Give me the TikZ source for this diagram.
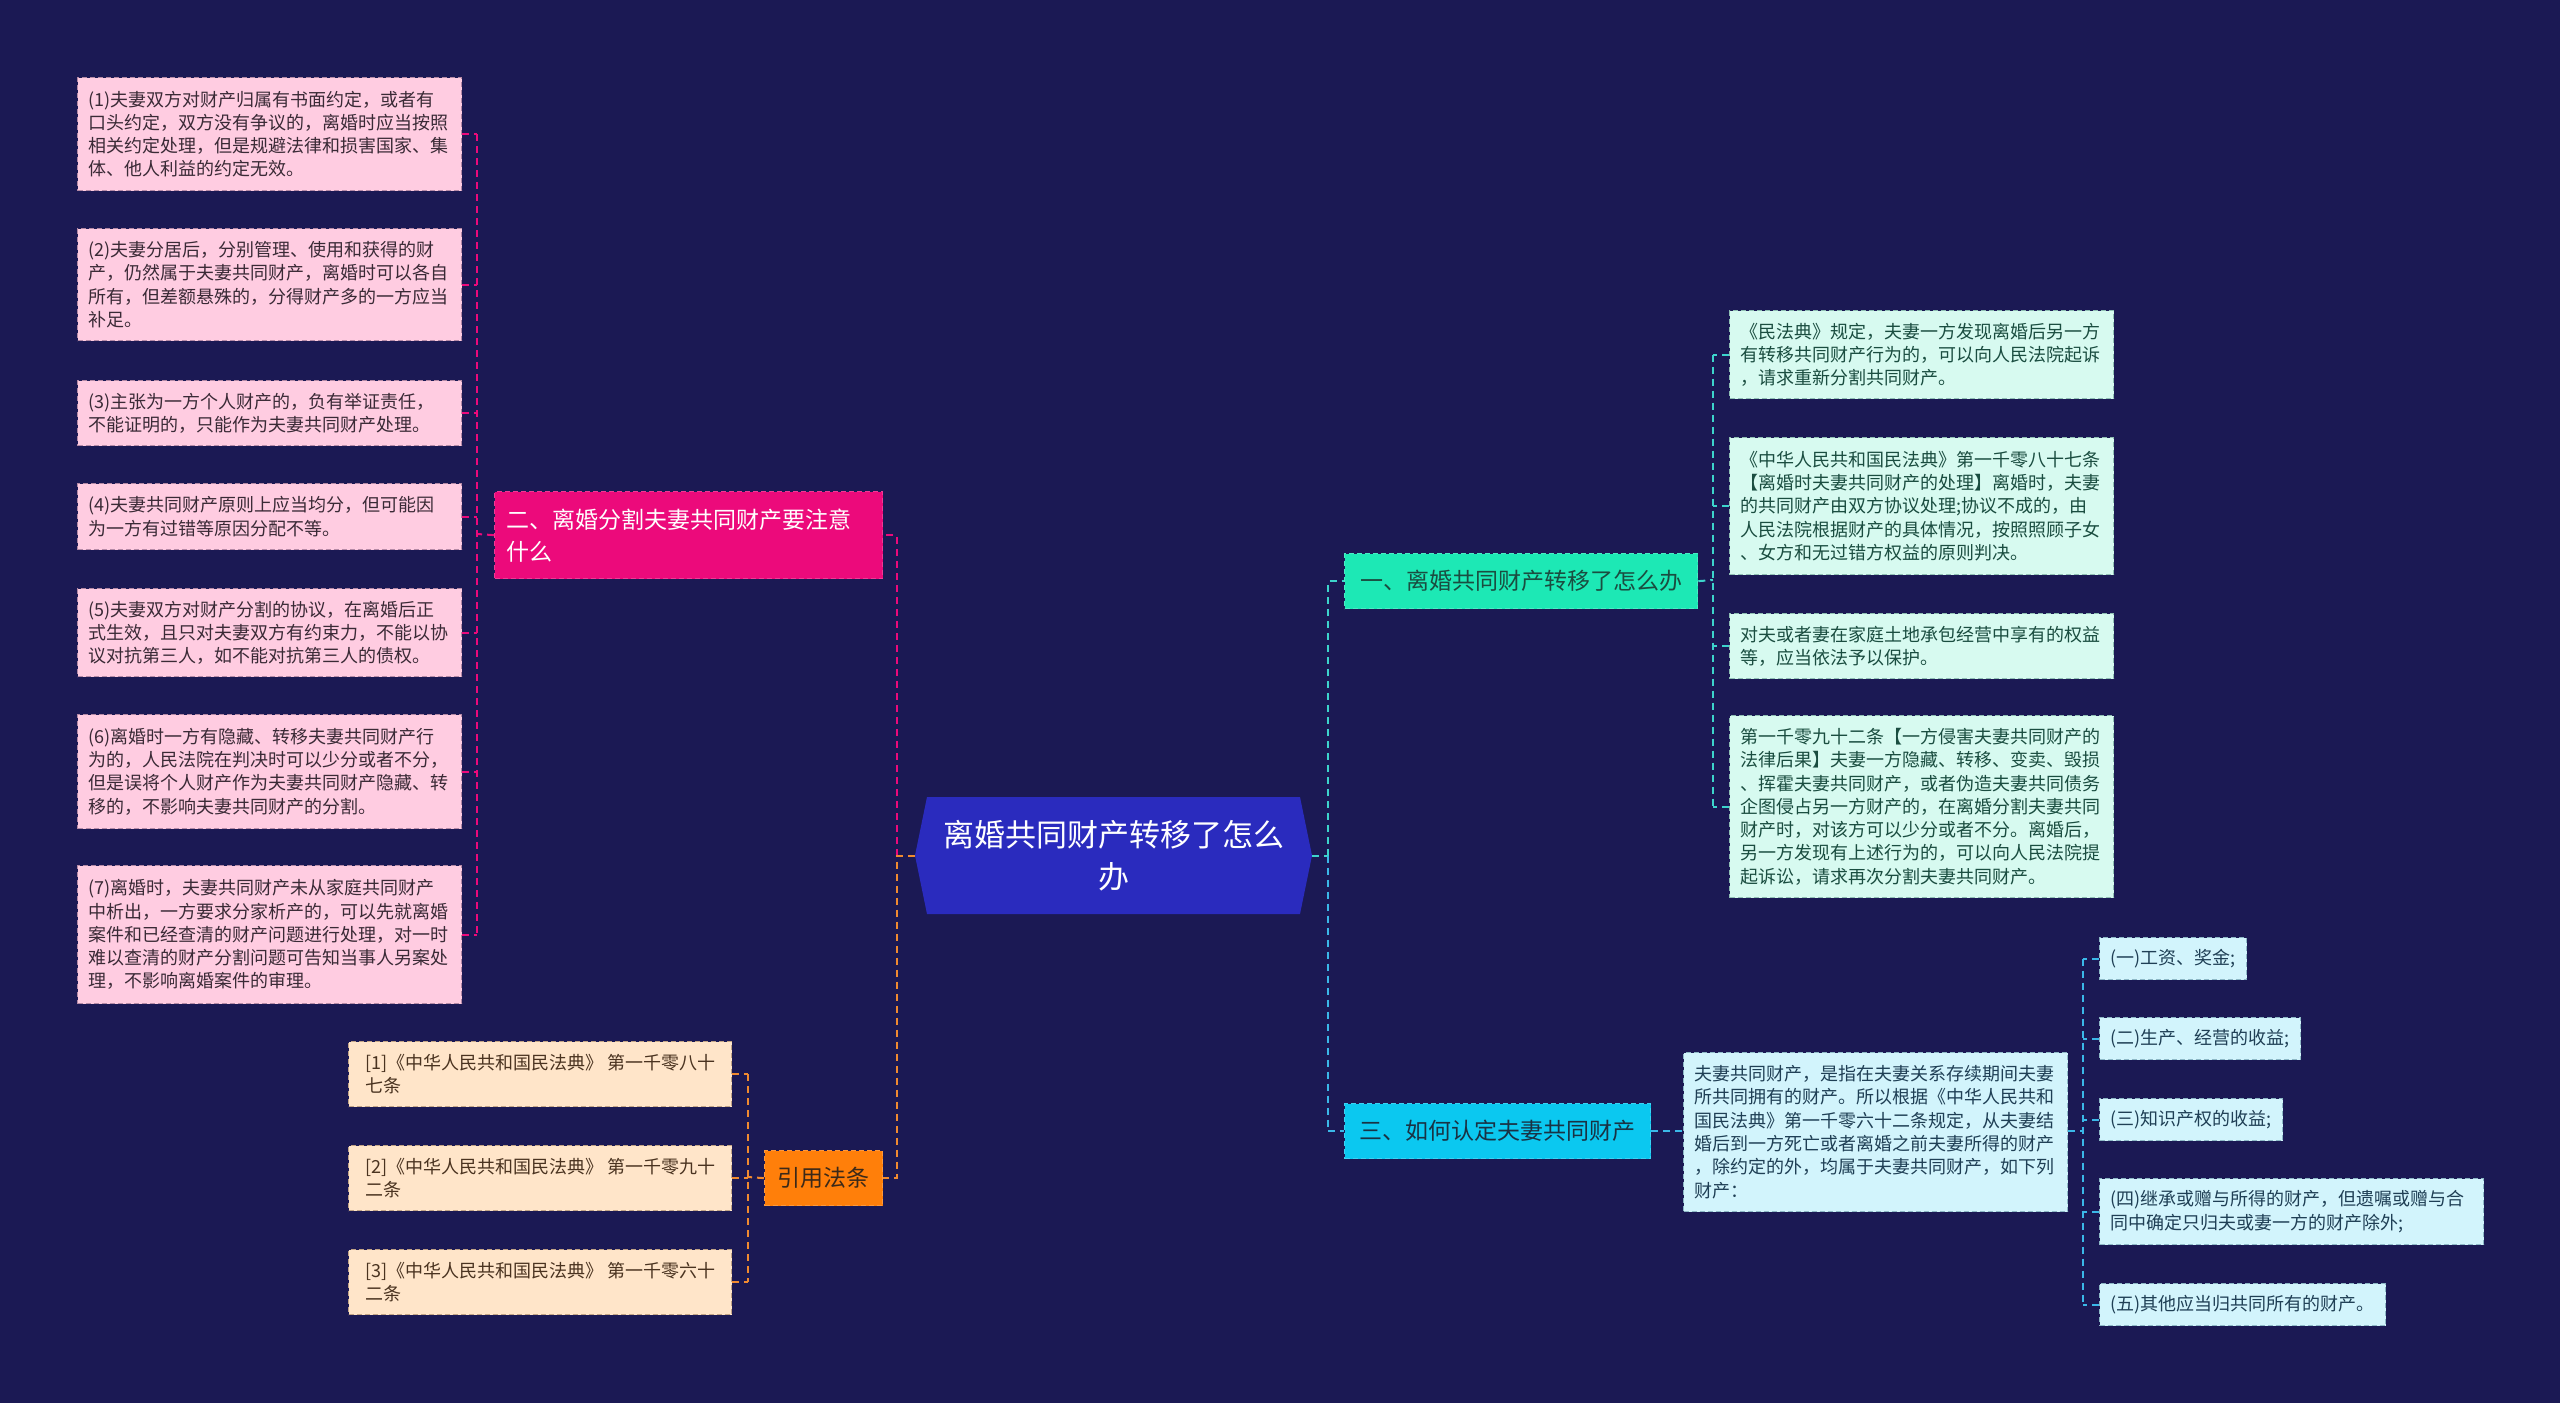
\documentclass[tikz,border=0pt]{standalone}
\usepackage{fontspec}
\setmainfont{Noto Sans CJK SC}
\definecolor{bg}{HTML}{1B1954}
\definecolor{pinkfill}{HTML}{FFCCE1}
\definecolor{pinkedge}{HTML}{B58AA6}
\definecolor{pinktext}{HTML}{3A2A36}
\definecolor{magenta}{HTML}{EC0A7B}
\definecolor{centerfill}{HTML}{2A2BBE}
\definecolor{mint}{HTML}{1DE8B5}
\definecolor{mintfill}{HTML}{D7FAF0}
\definecolor{mintedge}{HTML}{8FBFB3}
\definecolor{minttext}{HTML}{1A4D40}
\definecolor{cyanb}{HTML}{0BC8F0}
\definecolor{cyanfill}{HTML}{D2F4FC}
\definecolor{cyanedge}{HTML}{8DB8C6}
\definecolor{cyantext}{HTML}{1F3F55}
\definecolor{orangeb}{HTML}{FF7F0A}
\definecolor{peach}{HTML}{FFE5C9}
\definecolor{peachedge}{HTML}{C2A486}
\definecolor{peachtext}{HTML}{4A3320}
\definecolor{tealline}{HTML}{3DD4CC}
\definecolor{blueline}{HTML}{3BB8E8}
\definecolor{orangeline}{HTML}{F08A30}
\tikzset{
  base/.style={anchor=north west, align=left, inner xsep=11pt, inner ysep=0pt,
    line width=1.3pt, dash pattern=on 5pt off 3pt, font=\fontsize{18}{23.3}\selectfont},
  tw/.style={text width=362pt},
  pbox/.style={base, tw, draw=pinkedge, fill=pinkfill, text=pinktext},
  mbox/.style={base, tw, draw=mintedge, fill=mintfill, text=minttext},
  cbox/.style={base, draw=cyanedge, fill=cyanfill, text=cyantext},
  obox/.style={base, draw=peachedge, fill=peach, text=peachtext},
  branch/.style={anchor=north west, inner xsep=12pt, inner ysep=0pt, line width=1.3pt,
    dash pattern=on 5pt off 3pt, font=\fontsize{23}{32}\selectfont, minimum height=55pt},
  conn/.style={line width=2pt, dash pattern=on 7pt off 5pt},
}
\begin{document}
\begin{tikzpicture}[x=1pt,y=-1pt]
\useasboundingbox (0,0) rectangle (2560,1403);
\fill[bg] (0,0) rectangle (2560,1403);

% center
\fill[centerfill] (915,855.5) -- (927,797) -- (1300,797) -- (1312,855.5) -- (1300,914) -- (927,914) -- cycle;
\node[anchor=center, minimum width=397pt, minimum height=117pt, inner sep=0pt, text=white, align=center,
  font=\fontsize{31}{42}\selectfont] (c) at (1113.5,855.5) {离婚共同财产转移了怎么\\办};

% branch 2 (left, pink)
\node[branch, draw=magenta!80!white, fill=magenta, text=white, align=left, text width=364pt,
  minimum width=388pt, minimum height=87pt] (b2) at (494,491) {二、离婚分割夫妻共同财产要注意\\什么};

\node[pbox, minimum width=384pt, minimum height=113pt] (p1) at (77,77) {(1)夫妻双方对财产归属有书面约定，或者有\\口头约定，双方没有争议的，离婚时应当按照\\相关约定处理，但是规避法律和损害国家、集\\体、他人利益的约定无效。};
\node[pbox, minimum width=384pt, minimum height=112pt] (p2) at (77,228) {(2)夫妻分居后，分别管理、使用和获得的财\\产，仍然属于夫妻共同财产，离婚时可以各自\\所有，但差额悬殊的，分得财产多的一方应当\\补足。};
\node[pbox, minimum width=384pt, minimum height=65pt] (p3) at (77,380) {(3)主张为一方个人财产的，负有举证责任，\\不能证明的，只能作为夫妻共同财产处理。};
\node[pbox, minimum width=384pt, minimum height=66pt] (p4) at (77,483) {(4)夫妻共同财产原则上应当均分，但可能因\\为一方有过错等原因分配不等。};
\node[pbox, minimum width=384pt, minimum height=88pt] (p5) at (77,588) {(5)夫妻双方对财产分割的协议，在离婚后正\\式生效，且只对夫妻双方有约束力，不能以协\\议对抗第三人，如不能对抗第三人的债权。};
\node[pbox, minimum width=384pt, minimum height=114pt] (p6) at (77,714) {(6)离婚时一方有隐藏、转移夫妻共同财产行\\为的，人民法院在判决时可以少分或者不分，\\但是误将个人财产作为夫妻共同财产隐藏、转\\移的，不影响夫妻共同财产的分割。};
\node[pbox, minimum width=384pt, minimum height=138pt] (p7) at (77,865) {(7)离婚时，夫妻共同财产未从家庭共同财产\\中析出，一方要求分家析产的，可以先就离婚\\案件和已经查清的财产问题进行处理，对一时\\难以查清的财产分割问题可告知当事人另案处\\理，不影响离婚案件的审理。};

% citations (orange)
\node[branch, draw=orangeb!80!white, fill=orangeb, text=peachtext!80!black, minimum width=118pt, inner xsep=0pt] (b4) at (764,1150) {引用法条};
\node[obox, minimum width=383pt, minimum height=65pt] (o1) at (348,1041) {[1]《中华人民共和国民法典》 第一千零八十\\七条};
\node[obox, minimum width=383pt, minimum height=65pt] (o2) at (348,1145) {[2]《中华人民共和国民法典》 第一千零九十\\二条};
\node[obox, minimum width=383pt, minimum height=65pt] (o3) at (348,1249) {[3]《中华人民共和国民法典》 第一千零六十\\二条};

% branch 1 (right, mint)
\node[branch, draw=mint!80!white, fill=mint, text=minttext, minimum width=353pt, inner xsep=0pt] (b1) at (1344,553) {一、离婚共同财产转移了怎么办};
\node[mbox, minimum width=384pt, minimum height=88pt] (m1) at (1729,310) {《民法典》规定，夫妻一方发现离婚后另一方\\有转移共同财产行为的，可以向人民法院起诉\\，请求重新分割共同财产。};
\node[mbox, minimum width=384pt, minimum height=137pt] (m2) at (1729,437) {《中华人民共和国民法典》第一千零八十七条\\【离婚时夫妻共同财产的处理】离婚时，夫妻\\的共同财产由双方协议处理;协议不成的，由\\人民法院根据财产的具体情况，按照照顾子女\\、女方和无过错方权益的原则判决。};
\node[mbox, minimum width=384pt, minimum height=65pt] (m3) at (1729,613) {对夫或者妻在家庭土地承包经营中享有的权益\\等，应当依法予以保护。};
\node[mbox, minimum width=384pt, minimum height=182pt] (m4) at (1729,715) {第一千零九十二条【一方侵害夫妻共同财产的\\法律后果】夫妻一方隐藏、转移、变卖、毁损\\、挥霍夫妻共同财产，或者伪造夫妻共同债务\\企图侵占另一方财产的，在离婚分割夫妻共同\\财产时，对该方可以少分或者不分。离婚后，\\另一方发现有上述行为的，可以向人民法院提\\起诉讼，请求再次分割夫妻共同财产。};

% branch 3 (right, cyan)
\node[branch, draw=cyanb!80!white, fill=cyanb, text=cyantext!80!black, minimum width=306pt, inner xsep=0pt] (b3) at (1344,1103) {三、如何认定夫妻共同财产};
\node[cbox, tw, minimum width=384pt, minimum height=159pt] (k0) at (1683,1052) {夫妻共同财产，是指在夫妻关系存续期间夫妻\\所共同拥有的财产。所以根据《中华人民共和\\国民法典》第一千零六十二条规定，从夫妻结\\婚后到一方死亡或者离婚之前夫妻所得的财产\\，除约定的外，均属于夫妻共同财产，如下列\\财产：};
\node[cbox, minimum width=145pt, minimum height=42pt] (k1) at (2099,937) {(一)工资、奖金;};
\node[cbox, minimum width=199pt, minimum height=42pt] (k2) at (2099,1017) {(二)生产、经营的收益;};
\node[cbox, minimum width=181pt, minimum height=42pt] (k3) at (2099,1098) {(三)知识产权的收益;};
\node[cbox, tw, minimum width=384pt, minimum height=66pt] (k4) at (2099,1178) {(四)继承或赠与所得的财产，但遗嘱或赠与合\\同中确定只归夫或妻一方的财产除外;};
\node[cbox, minimum width=286pt, minimum height=42pt] (k5) at (2099,1283) {(五)其他应当归共同所有的财产。};

% junction coordinates
\coordinate (lj) at (897,855.5);
\coordinate (rj) at (1328,855.5);
\coordinate (pj) at (477,534);
\coordinate (oj) at (748,1177);
\coordinate (mj) at (1713,580);
\coordinate (kj) at (2083,1131);

% center connectors
\draw[conn, magenta] (lj) |- (b2.east);
\draw[conn, orangeline] (c.west) -- (lj) |- (b4.east);
\draw[conn, tealline] (c.east) -- (rj);
\draw[conn, tealline] (rj) |- (b1.west);
\draw[conn, blueline] (rj) |- (b3.west);

% branch 2 children
\draw[conn, magenta] (b2.west) -- (pj);
\draw[conn, magenta] (p1.east -| pj) -- (p7.east -| pj);
\foreach \n in {p1,p2,p3,p4,p5,p6,p7} \draw[conn, magenta] (\n.east) -- (\n.east -| pj);

% citation children
\draw[conn, orangeline] (b4.west) -- (oj);
\draw[conn, orangeline] (o1.east -| oj) -- (o3.east -| oj);
\foreach \n in {o1,o2,o3} \draw[conn, orangeline] (\n.east) -- (\n.east -| oj);

% branch 1 children
\draw[conn, tealline] (b1.east) -- (mj);
\draw[conn, tealline] (m1.west -| mj) -- (m4.west -| mj);
\foreach \n in {m1,m2,m3,m4} \draw[conn, tealline] (\n.west) -- (\n.west -| mj);

% branch 3 children
\draw[conn, blueline] (b3.east) -- (k0.west |- b3.east);
\draw[conn, blueline] (k0.east |- kj) -- (kj);
\draw[conn, blueline] (k1.west -| kj) -- (k5.west -| kj);
\foreach \n in {k1,k2,k3,k4,k5} \draw[conn, blueline] (\n.west) -- (\n.west -| kj);
\end{tikzpicture}
\end{document}
